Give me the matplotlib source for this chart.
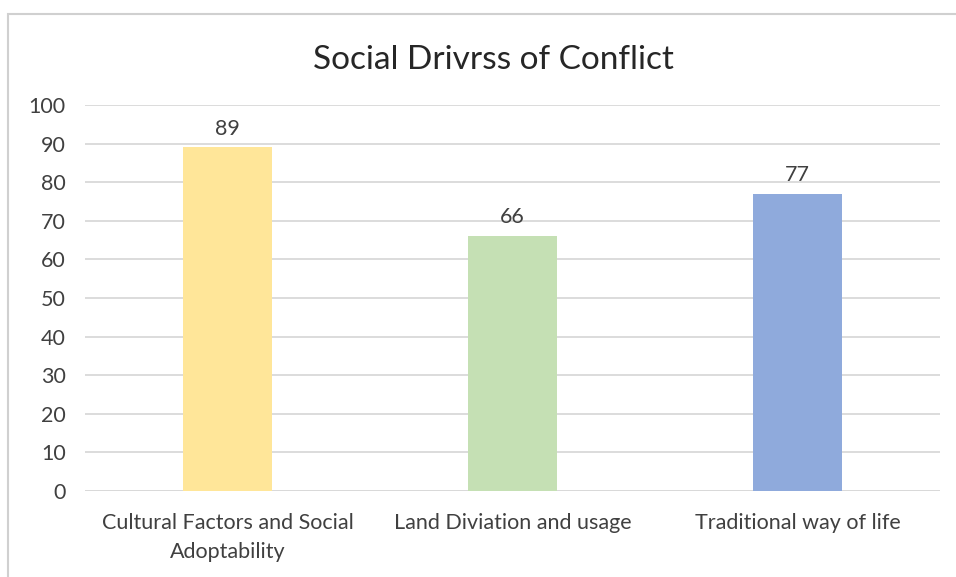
import matplotlib
matplotlib.use("Agg")
import matplotlib.pyplot as plt
from matplotlib.patches import Rectangle

categories = ["Cultural Factors and Social\nAdoptability", "Land Diviation and usage", "Traditional way of life"]
values = [89, 66, 77]
colors = ["#FFE699", "#C5E0B4", "#8FAADC"]
yticks = [0, 10, 20, 30, 40, 50, 60, 70, 80, 90, 100]
title = "Social Drivrss of Conflict"

plt.rcParams["font.family"] = ["Lato", "DejaVu Sans"]
text_color = "#404040"

W, H = 956, 577
fig = plt.figure(figsize=(W / 100, H / 100), dpi=100)
fig.patch.set_facecolor("white")

# chart frame (runs off the right and bottom edges)
fig.patches.append(Rectangle((8 / W, -0.1), 1.2, 1 - 14 / H + 0.1, transform=fig.transFigure,
                             fill=False, edgecolor="#D0D0D0", linewidth=1.5))

ax = fig.add_axes([85 / W, 1 - 491 / H, (940 - 85) / W, (491 - 105) / H])
x = list(range(len(categories)))
ax.bar(x, values, width=0.315, color=colors, zorder=3)
for xi, v in zip(x, values):
    ax.text(xi, v + 2.3, str(v), ha="center", va="bottom", fontsize=15.5, color=text_color)

ax.set_xlim(-0.5, len(categories) - 0.5)
ax.set_ylim(0, 100)
ax.set_yticks(yticks)
ax.set_yticklabels([str(t) for t in yticks], fontsize=15.5, color=text_color)
ax.set_xticks(x)
ax.set_xticklabels(categories, fontsize=15.5, color=text_color, linespacing=1.55)
ax.tick_params(axis="both", length=0)
ax.tick_params(axis="y", pad=14)
ax.tick_params(axis="x", pad=16)
ax.grid(axis="y", color="#D9D9D9", linewidth=1.3, zorder=0)
ax.axhline(0, color="#D9D9D9", linewidth=1.3, zorder=2)
for s in ax.spines.values():
    s.set_visible(False)

fig.text(493 / W, 1 - 60 / H, title, ha="center", va="center", fontsize=24, color="#262626")

fig.savefig("out.png", dpi=100)
